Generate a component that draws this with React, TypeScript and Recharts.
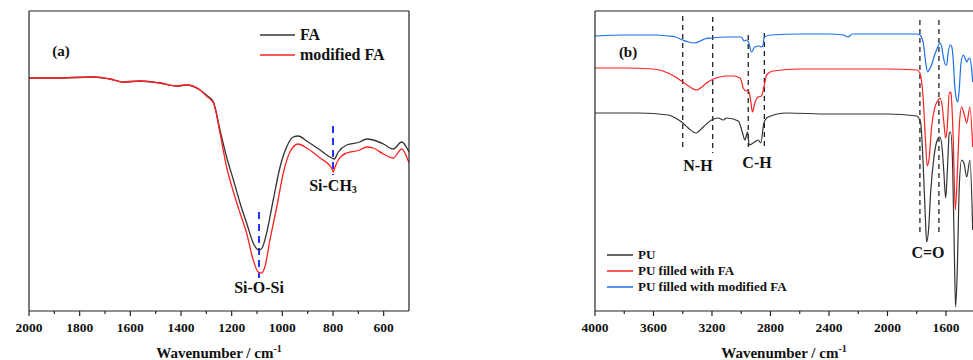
import React from "react"
import {
  Legend,
  Line,
  LineChart,
  ReferenceDot,
  ReferenceLine,
  XAxis,
  YAxis,
} from "recharts"

const FONT = "'Liberation Serif', 'Times New Roman', serif"
const AXIS = "#222"

// panel (a): wavenumber, transmittance (a.u.)
const faSpectrum = [
  [2000, 233], [1900, 233], [1746, 234], [1680, 232], [1628, 229], [1562, 230],
  [1483, 228], [1417, 225], [1378, 226], [1325, 221], [1300, 216], [1272, 209],
  [1246, 181], [1220, 154], [1193, 131], [1167, 108], [1141, 88], [1115, 68],
  [1100, 62], [1091, 61], [1080, 63], [1062, 78], [1036, 111], [1009, 144],
  [983, 164], [957, 174], [937, 175], [904, 170], [851, 161], [805, 153],
  [795, 152], [779, 159], [746, 166], [694, 169], [667, 172], [641, 171],
  [601, 167], [562, 162], [529, 169], [500, 159],
]
const modifiedFaSpectrum = [
  [2000, 233], [1900, 233], [1746, 234], [1680, 232], [1628, 229], [1562, 230],
  [1483, 228], [1417, 225], [1378, 226], [1325, 221], [1300, 215], [1272, 208],
  [1246, 178], [1220, 144], [1193, 119], [1167, 98], [1141, 78], [1115, 51],
  [1095, 39], [1082, 38], [1069, 44], [1049, 71], [1022, 104], [996, 138],
  [970, 159], [937, 167], [904, 163], [851, 153], [805, 143], [799, 139],
  [792, 144], [779, 151], [746, 158], [694, 161], [667, 164], [641, 163],
  [601, 157], [562, 153], [529, 162], [500, 148],
]

// panel (b)
const puSpectrum = [
  [4000, 198], [3800, 198], [3700, 198], [3500, 196], [3450, 193], [3407, 189],
  [3362, 183], [3310, 178], [3260, 184], [3203, 191], [3157, 193], [3123, 191],
  [3100, 193], [3020, 190], [2991, 178], [2975, 171], [2957, 179], [2945, 166],
  [2918, 168], [2884, 171], [2866, 168], [2845, 188], [2816, 194], [2690, 198],
  [2400, 197], [2000, 197], [1800, 195], [1773, 188], [1755, 144], [1741, 94],
  [1732, 69], [1719, 81], [1705, 118], [1682, 154], [1652, 173], [1641, 174],
  [1625, 161], [1614, 138], [1602, 113], [1591, 138], [1577, 178], [1568, 179],
  [1554, 144], [1543, 61], [1534, 4], [1522, 44], [1509, 124], [1493, 151],
  [1477, 148], [1458, 134], [1436, 151], [1417, 81],
]
const puFaSpectrum = [
  [4000, 243], [3800, 243], [3600, 242], [3500, 238], [3450, 234], [3400, 229],
  [3350, 224], [3305, 221], [3270, 224], [3237, 228], [3191, 232], [3146, 234],
  [3100, 235], [3055, 235], [3009, 233], [2995, 228], [2987, 223], [2964, 220],
  [2952, 221], [2936, 211], [2923, 199], [2907, 208], [2884, 214], [2861, 215],
  [2845, 224], [2827, 236], [2782, 240], [2600, 242], [2400, 242], [2000, 242],
  [1800, 241], [1778, 238], [1755, 211], [1739, 168], [1728, 145], [1714, 154],
  [1698, 184], [1675, 204], [1652, 211], [1641, 213], [1625, 204], [1614, 188],
  [1602, 173], [1591, 184], [1577, 219], [1566, 218], [1550, 171], [1536, 101],
  [1522, 138], [1509, 184], [1493, 204], [1477, 198], [1458, 188], [1436, 204],
  [1417, 164],
]
const puModFaSpectrum = [
  [4000, 275], [3800, 276], [3600, 276], [3500, 275], [3450, 274], [3400, 271],
  [3360, 269], [3320, 268], [3280, 270], [3250, 272], [3200, 273], [3100, 274],
  [3000, 274], [2980, 270], [2964, 271], [2950, 269], [2930, 259], [2907, 264],
  [2877, 265], [2861, 264], [2850, 266], [2843, 274], [2800, 276], [2600, 277],
  [2400, 277], [2300, 276], [2270, 274], [2240, 277], [2000, 277], [1800, 277],
  [1778, 276], [1755, 268], [1740, 250], [1725, 239], [1712, 242], [1698, 246],
  [1680, 255], [1664, 261], [1641, 268], [1629, 264], [1615, 252], [1602, 246],
  [1595, 246], [1585, 258], [1572, 266], [1562, 265], [1550, 251], [1540, 225],
  [1531, 214], [1520, 209], [1511, 218], [1497, 248], [1481, 256], [1470, 253],
  [1458, 249], [1446, 252], [1436, 253], [1425, 243], [1417, 229],
]

const ticksA = [2000, 1900, 1800, 1700, 1600, 1500, 1400, 1300, 1200, 1100, 1000, 900, 800, 700, 600]
const ticksB = [4000, 3800, 3600, 3400, 3200, 3000, 2800, 2600, 2400, 2200, 2000, 1800, 1600]

// peak markers: [wavenumber, from, to]
const peaksA = [[1092, 99, 33], [800, 185, 136]]
const peaksB = [[3400, 295, 161], [3195, 294, 158], [2952, 276, 164], [2842, 278, 164], [1778, 291, 76], [1648, 291, 78]]

const toRows = (arr: number[][]) => arr.map(([wn, t]) => ({ wn, t }))

function AxisTick(props: any) {
  const { x, y, payload, step } = props
  const major = payload.value % step === 0
  return (
    <g>
      <line x1={x} x2={x} y1={y} y2={y + (major ? 5 : 3)} stroke={AXIS} strokeWidth={1.2} />
      {major && (
        <text x={x} y={y + 21} textAnchor="middle" fontSize={13.5} fontWeight="bold" fontFamily={FONT} fill="#111">
          {payload.value}
        </text>
      )}
    </g>
  )
}

function AxisTitle(props: any) {
  const { viewBox } = props
  return (
    <text x={viewBox.x + viewBox.width / 2} y={viewBox.y + 47} textAnchor="middle" fontSize={15} fontWeight="bold" fontFamily={FONT} fill="#111">
      Wavenumber / cm<tspan dy={-6} fontSize={10}>-1</tspan>
    </text>
  )
}

function Note(props: any) {
  const { viewBox, text, sub, size } = props
  return (
    <text x={viewBox.x} y={viewBox.y} textAnchor="middle" dominantBaseline="central" fontSize={size || 16} fontWeight="bold" fontFamily={FONT} fill="#111">
      {text}
      {sub && <tspan dy={4} fontSize={10}>{sub}</tspan>}
    </text>
  )
}

function LegendBox(props: any) {
  const { payload, rowH, fontSize, lineW } = props
  return (
    <div style={{ fontFamily: FONT, fontWeight: "bold", fontSize, color: "#111" }}>
      {payload.map((p: any) => (
        <div key={p.value} style={{ display: "flex", alignItems: "center", height: rowH, whiteSpace: "nowrap" }}>
          <svg width={lineW} height={4}>
            <line x1={0} x2={lineW} y1={2} y2={2} stroke={p.color} strokeWidth={1.5} />
          </svg>
          <span style={{ marginLeft: 5 }}>{p.value}</span>
        </div>
      ))}
    </div>
  )
}

const axisLine = { stroke: AXIS, strokeWidth: 1.2 }

export default function App() {
  return (
    <div style={{ position: "fixed", left: 0, top: 0, width: 973, height: 360, overflow: "hidden", background: "#fff" }}>
      <div style={{ position: "absolute", left: 0, top: 0 }}>
        <LineChart width={420} height={360} margin={{ top: 10, right: 10, bottom: 0, left: 28 }}>
          <XAxis dataKey="wn" type="number" domain={[500, 2000]} reversed allowDataOverflow ticks={ticksA} interval={0}
            height={49} tickSize={0} tickMargin={0} tickLine={false} axisLine={axisLine}
            tick={<AxisTick step={200} />} label={<AxisTitle />} />
          <XAxis xAxisId="top" orientation="top" type="number" domain={[500, 2000]} reversed height={1} tick={false} tickLine={false} axisLine={axisLine} />
          <YAxis type="number" domain={[0, 300]} width={1} tick={false} tickLine={false} axisLine={axisLine} />
          <YAxis yAxisId="r" orientation="right" type="number" domain={[0, 300]} width={1} tick={false} tickLine={false} axisLine={axisLine} />
          {peaksA.map(([wn, a, b]) => (
            <ReferenceLine key={wn} segment={[{ x: wn, y: a }, { x: wn, y: b }]} stroke="#2233ff" strokeWidth={2} strokeDasharray="7 5" />
          ))}
          <Line data={toRows(faSpectrum)} dataKey="t" name="FA" type="monotone" stroke="#333" strokeWidth={1.3} dot={false} isAnimationActive={false} />
          <Line data={toRows(modifiedFaSpectrum)} dataKey="t" name="modified FA" type="monotone" stroke="#ff2020" strokeWidth={1.3} dot={false} isAnimationActive={false} />
          <ReferenceDot x={1874} y={260} r={0} stroke="none" fill="none" label={<Note text="(a)" size={15} />} />
          <ReferenceDot x={1092} y={24} r={0} stroke="none" fill="none" label={<Note text="Si-O-Si" />} />
          <ReferenceDot x={800} y={126} r={0} stroke="none" fill="none" label={<Note text="Si-CH" sub="3" />} />
          <Legend layout="vertical" align="center" verticalAlign="middle" wrapperStyle={{ left: 260, top: 25, width: "auto" }}
            content={<LegendBox rowH={20} fontSize={16} lineW={35} />} />
        </LineChart>
      </div>
      <div style={{ position: "absolute", left: 560, top: 0 }}>
        <LineChart width={413} height={360} margin={{ top: 10, right: 0, bottom: 0, left: 34 }}>
          <XAxis dataKey="wn" type="number" domain={[1415, 4000]} reversed allowDataOverflow ticks={ticksB} interval={0}
            height={49} tickSize={0} tickMargin={0} tickLine={false} axisLine={axisLine}
            tick={<AxisTick step={400} />} label={<AxisTitle />} />
          <XAxis xAxisId="top" orientation="top" type="number" domain={[1415, 4000]} reversed height={1} tick={false} tickLine={false} axisLine={axisLine} />
          <YAxis type="number" domain={[0, 300]} width={1} tick={false} tickLine={false} axisLine={axisLine} />
          {peaksB.map(([wn, a, b]) => (
            <ReferenceLine key={wn} segment={[{ x: wn, y: a }, { x: wn, y: b }]} stroke="#111" strokeWidth={1.2} strokeDasharray="5 4" />
          ))}
          <Line data={toRows(puSpectrum)} dataKey="t" name="PU" type="monotone" stroke="#333" strokeWidth={1.2} dot={false} isAnimationActive={false} />
          <Line data={toRows(puFaSpectrum)} dataKey="t" name="PU filled with FA" type="monotone" stroke="#ff2020" strokeWidth={1.2} dot={false} isAnimationActive={false} />
          <Line data={toRows(puModFaSpectrum)} dataKey="t" name="PU filled with modified FA" type="monotone" stroke="#1a6fe8" strokeWidth={1.2} dot={false} isAnimationActive={false} />
          <ReferenceDot x={3774} y={259} r={0} stroke="none" fill="none" label={<Note text="(b)" size={15} />} />
          <ReferenceDot x={3296} y={146} r={0} stroke="none" fill="none" label={<Note text="N-H" />} />
          <ReferenceDot x={2892} y={149} r={0} stroke="none" fill="none" label={<Note text="C-H" />} />
          <ReferenceDot x={1723} y={59} r={0} stroke="none" fill="none" label={<Note text="C=O" />} />
          <Legend layout="vertical" align="center" verticalAlign="middle" wrapperStyle={{ left: 47, top: 247, width: "auto" }}
            content={<LegendBox rowH={16} fontSize={13} lineW={26} />} />
        </LineChart>
      </div>
    </div>
  )
}
